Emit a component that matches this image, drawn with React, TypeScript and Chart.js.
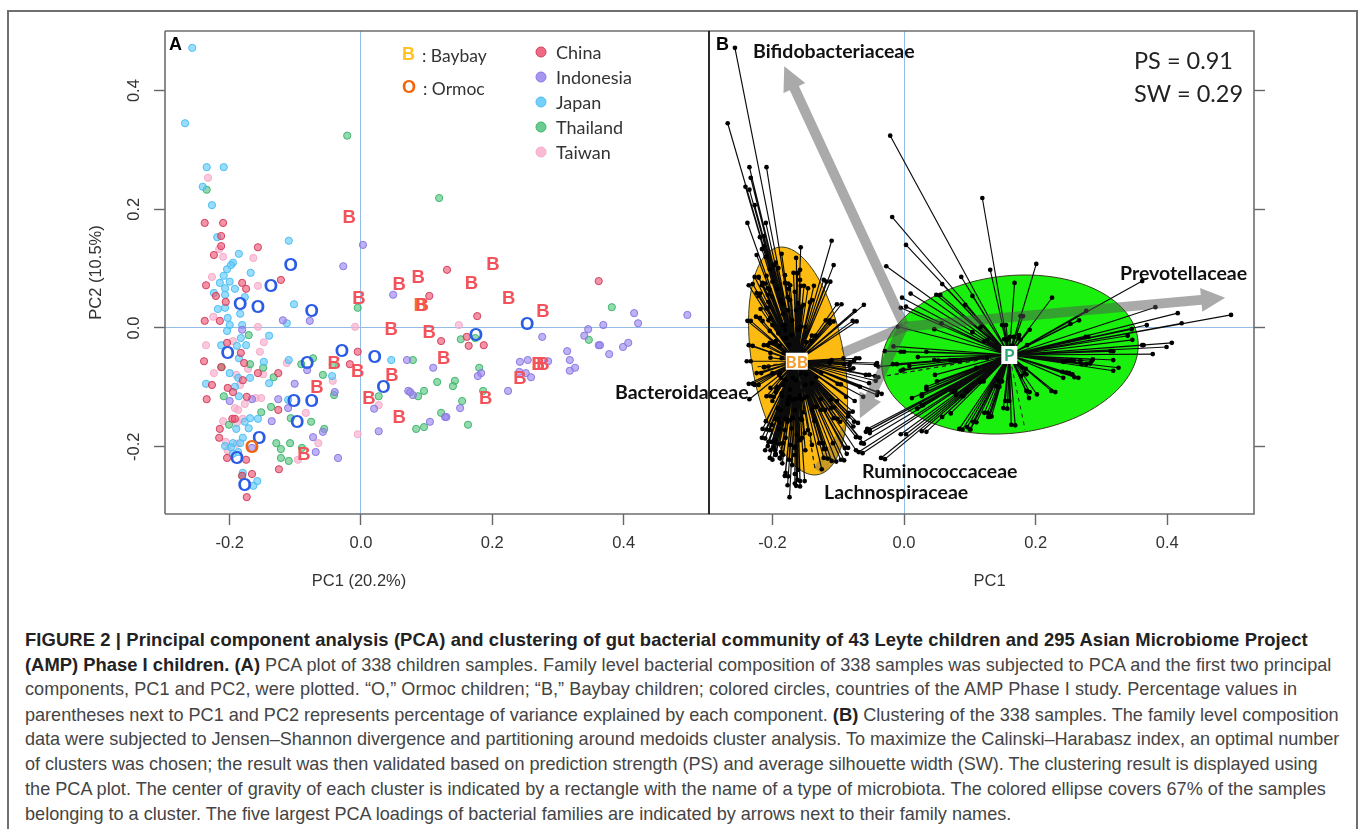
import React, { useEffect, useRef } from "react";
import { Chart, registerables } from "chart.js";

Chart.register(...registerables);

type Pt = [number, number];

const chinaPoints: Pt[] = [[-0.238,0.177],[-0.21,0.177],[-0.213,0.155],[-0.213,0.138],[-0.157,0.136],[-0.224,0.123],[-0.122,0.081],[-0.236,0.072],[-0.221,0.054],[-0.181,0.076],[-0.175,0.066],[-0.206,0.044],[-0.238,0.012],[-0.215,0.012],[-0.204,-0.025],[-0.183,-0.042],[-0.239,-0.056],[-0.178,-0.059],[-0.213,-0.066],[-0.18,-0.088],[-0.157,-0.076],[-0.126,-0.076],[-0.227,-0.096],[-0.203,-0.101],[-0.195,-0.108],[-0.174,-0.116],[-0.235,-0.12],[-0.126,-0.138],[-0.196,-0.153],[-0.192,-0.153],[-0.215,-0.17],[-0.216,-0.185],[-0.204,-0.219],[-0.175,-0.222],[-0.166,-0.246],[-0.181,-0.249],[-0.174,-0.285],[-0.125,-0.238],[-0.005,-0.04],[-0.017,-0.061],[0.131,0.098],[0.362,0.079],[0.104,0.054],[0.177,0.02],[0.122,-0.022],[0.161,-0.015],[0.164,-0.03],[0.187,-0.029]];
const indonesiaPoints: Pt[] = [[0.003,0.14],[-0.027,0.104],[0.049,0.056],[-0.119,0.013],[-0.078,0.012],[-0.181,-0.003],[-0.082,-0.071],[-0.101,-0.094],[-0.04,-0.108],[-0.166,-0.12],[-0.2,-0.123],[-0.126,-0.12],[-0.111,-0.135],[-0.136,-0.157],[-0.073,-0.184],[-0.058,-0.175],[-0.069,-0.209],[-0.035,-0.219],[0.02,-0.136],[0.027,-0.174],[0.07,-0.054],[0.072,-0.106],[0.079,-0.113],[-0.166,-0.202],[0.497,0.022],[0.416,0.025],[0.422,0.008],[0.369,0.005],[0.346,-0.002],[0.276,-0.015],[0.34,-0.013],[0.407,-0.025],[0.399,-0.032],[0.362,-0.029],[0.364,-0.029],[0.378,-0.044],[0.314,-0.039],[0.318,-0.054],[0.285,-0.056],[0.254,-0.054],[0.242,-0.057],[0.326,-0.067],[0.318,-0.072],[0.241,-0.074],[0.251,-0.076],[0.259,-0.083],[0.11,-0.067],[0.183,-0.076],[0.178,-0.081],[0.224,-0.106],[0.151,-0.135],[0.128,-0.15],[0.13,-0.15],[0.105,-0.158],[0.075,-0.108]];
const japanPoints: Pt[] = [[-0.257,0.472],[-0.268,0.345],[-0.235,0.271],[-0.209,0.271],[-0.241,0.238],[-0.227,0.207],[-0.219,0.153],[-0.11,0.147],[-0.186,0.125],[-0.195,0.11],[-0.198,0.106],[-0.204,0.099],[-0.168,0.093],[-0.209,0.088],[-0.2,0.078],[-0.215,0.076],[-0.224,0.059],[-0.207,0.067],[-0.207,0.056],[-0.192,0.066],[-0.177,0.052],[-0.218,0.032],[-0.207,0.034],[-0.184,0.024],[-0.203,0.017],[-0.2,0.005],[-0.181,0.005],[-0.204,-0.005],[-0.113,0.008],[-0.102,0.04],[-0.14,-0.013],[-0.183,-0.017],[-0.213,-0.029],[-0.189,-0.03],[-0.175,-0.029],[-0.186,-0.051],[-0.148,-0.057],[-0.11,-0.054],[-0.2,-0.076],[-0.169,-0.084],[-0.14,-0.093],[-0.187,-0.084],[-0.236,-0.094],[-0.192,-0.099],[-0.186,-0.115],[-0.111,-0.121],[-0.169,-0.152],[-0.157,-0.153],[-0.177,-0.158],[-0.171,-0.169],[-0.19,-0.17],[-0.18,-0.185],[-0.195,-0.194],[-0.184,-0.194],[-0.18,-0.244],[-0.158,-0.258],[-0.164,-0.266],[-0.044,-0.081],[0.046,-0.054],[-0.195,-0.212],[-0.187,-0.209],[-0.198,-0.201],[-0.207,-0.199]];
const thailandPoints: Pt[] = [[-0.021,0.324],[-0.235,0.233],[0.119,0.219],[-0.005,0.034],[-0.171,-0.012],[-0.169,-0.061],[-0.149,-0.067],[-0.133,-0.083],[-0.212,-0.066],[-0.073,-0.051],[-0.091,-0.061],[-0.058,-0.079],[-0.043,-0.062],[-0.041,-0.113],[-0.209,-0.115],[-0.137,-0.133],[-0.152,-0.142],[-0.107,-0.152],[-0.076,-0.158],[-0.201,-0.163],[-0.056,-0.17],[-0.129,-0.194],[-0.122,-0.204],[-0.108,-0.194],[-0.09,-0.202],[-0.122,-0.219],[-0.11,-0.224],[0.027,-0.115],[0.079,-0.054],[0.084,-0.17],[0.087,-0.115],[-0.181,-0.249],[0.382,0.035],[0.152,-0.019],[0.174,-0.017],[0.347,-0.02],[0.18,-0.067],[0.116,-0.091],[0.143,-0.089],[0.14,-0.098],[0.096,-0.106],[0.186,-0.106],[0.154,-0.123],[0.122,-0.143],[0.163,-0.163],[0.096,-0.167]];
const taiwanPoints: Pt[] = [[-0.233,0.253],[-0.21,0.12],[-0.164,0.118],[-0.227,0.086],[-0.216,0.133],[-0.157,0.071],[-0.225,0.019],[-0.157,0.002],[-0.236,-0.029],[-0.195,-0.022],[-0.148,-0.024],[-0.154,-0.04],[-0.113,-0.059],[-0.172,-0.069],[-0.149,-0.078],[-0.224,-0.076],[-0.19,-0.079],[-0.043,-0.089],[-0.184,-0.096],[-0.177,-0.128],[-0.16,-0.118],[-0.152,-0.118],[-0.192,-0.135],[-0.187,-0.138],[-0.21,-0.157],[-0.189,-0.16],[-0.18,-0.153],[-0.084,-0.143],[-0.206,-0.192],[-0.203,-0.206],[-0.189,-0.195],[-0.065,-0.194],[-0.096,-0.222],[-0.005,-0.179],[0.027,-0.13],[-0.009,0.002],[0.149,0.005]];
const baybayPoints: Pt[] = [[-0.018,0.187],[-0.003,0.051],[0.058,0.074],[0.087,0.086],[0.168,0.076],[0.201,0.108],[0.225,0.051],[0.277,0.029],[0.093,0.039],[0.104,-0.007],[0.046,-0.002],[0.126,-0.051],[-0.041,-0.059],[-0.005,-0.072],[0.047,-0.079],[-0.067,-0.099],[0.012,-0.118],[0.058,-0.15],[-0.087,-0.212],[0.242,-0.084],[0.19,-0.118],[0.27,-0.061],[0.277,-0.061]];
const ormocPoints: Pt[] = [[-0.107,0.106],[-0.137,0.071],[-0.184,0.04],[-0.157,0.035],[-0.075,0.029],[-0.029,-0.039],[0.021,-0.049],[-0.203,-0.042],[-0.082,-0.059],[0.034,-0.099],[-0.102,-0.123],[-0.075,-0.123],[-0.097,-0.158],[-0.155,-0.185],[-0.189,-0.219],[-0.177,-0.265],[0.253,0.007],[0.175,-0.012]];
const baybayCenters: Pt[] = [[0.09,0.039],[0.27,-0.061]];
const ormocCenters: Pt[] = [[-0.166,-0.2]];

// Points, where panel A's marks hide one another.
const panelBExtraBB: Pt[] = [[-0.221,0.086],[-0.23,0.074],[-0.216,0.072],[-0.211,0.075],[-0.219,0.058],[-0.201,0.053],[-0.176,0.075],[-0.152,0.071],[-0.143,0.043],[-0.162,0.093],[-0.209,0.033],[-0.219,0.017],[-0.206,0.013],[-0.233,0.012],[-0.191,-0.009],[-0.199,-0.026],[-0.207,-0.029],[-0.23,-0.03],[-0.203,-0.05],[-0.233,-0.056],[-0.206,-0.065],[-0.217,-0.076],[-0.23,-0.094],[-0.221,-0.096],[-0.188,-0.076],[-0.194,-0.102],[-0.198,-0.116],[-0.203,-0.115],[-0.186,-0.11],[-0.156,0.036],[-0.161,0.042],[-0.113,0.013],[-0.107,0.011],[-0.141,-0.022],[-0.134,-0.013],[-0.15,0.002],[-0.209,-0.171],[-0.211,-0.186],[-0.201,-0.192],[-0.196,-0.206],[-0.2,-0.222],[-0.188,-0.22],[-0.185,-0.228],[-0.176,-0.25],[-0.166,-0.262],[-0.162,-0.256],[-0.151,-0.258],[-0.158,-0.267],[-0.103,-0.225],[-0.091,-0.223],[-0.116,-0.22],[-0.123,-0.194],[-0.119,-0.204],[-0.085,-0.202],[-0.073,-0.206],[-0.101,-0.153],[-0.106,-0.134],[-0.12,-0.138],[-0.133,-0.133],[-0.143,-0.179],[-0.151,-0.177],[-0.156,-0.117],[-0.148,-0.116],[-0.096,-0.095],[-0.088,-0.116],[-0.062,-0.116],[-0.07,-0.16],[-0.085,-0.149],[-0.078,-0.141],[-0.061,-0.195],[-0.067,-0.185],[-0.077,-0.166],[-0.092,-0.051],[-0.076,-0.055],[-0.068,-0.051],[-0.083,-0.063],[-0.077,-0.068],[-0.053,-0.079],[-0.039,-0.083],[-0.053,-0.093],[-0.034,-0.111],[-0.061,0.039],[-0.072,0.011],[-0.095,0.04],[-0.118,0.078],[-0.112,0.078],[-0.162,0.092],[-0.221,0.085],[-0.181,0.089],[-0.173,0.072],[-0.166,0.061],[-0.158,0.081],[-0.146,0.067],[-0.188,0.047],[-0.176,0.03],[-0.153,0.039],[-0.14,0.047],[-0.17,0.013],[-0.161,-0.003],[-0.184,0.005],[-0.179,-0.017],[-0.173,0.047],[-0.164,0.03],[-0.158,0.098],[-0.191,0.101],[-0.204,0.064],[-0.191,-0.155],[-0.181,-0.172],[-0.173,-0.197],[-0.166,-0.214],[-0.158,-0.189],[-0.15,-0.206],[-0.184,-0.214],[-0.17,-0.231],[-0.14,-0.197],[-0.196,-0.189],[-0.176,-0.121],[-0.166,-0.138],[-0.155,-0.155],[-0.188,-0.138],[-0.146,-0.172],[-0.161,-0.239],[-0.173,-0.104],[-0.158,-0.113],[-0.164,-0.088],[-0.173,-0.155],[-0.181,-0.088],[-0.15,-0.096],[-0.14,-0.138],[-0.204,-0.172],[-0.211,-0.206],[-0.195,-0.214],[-0.163,-0.18],[-0.169,-0.121],[-0.155,-0.121]];
const panelBExtraP: Pt[] = [[0.266,0.013],[0.318,-0.039],[0.287,-0.053],[0.268,-0.055],[0.258,-0.054],[0.248,-0.055],[0.283,-0.06],[0.265,-0.084],[0.256,-0.078],[0.247,-0.075],[0.23,-0.108],[0.202,-0.112],[0.191,-0.108],[0.186,-0.078],[0.185,-0.069],[0.169,-0.164],[0.16,-0.123],[0.157,-0.136],[0.133,-0.149],[0.127,-0.143],[0.11,-0.159],[0.1,-0.171],[0.145,-0.099],[0.149,-0.09],[0.121,-0.09],[0.181,0.02],[0.191,-0.003],[0.177,-0.02],[0.167,-0.015],[0.155,0.005],[0.157,-0.02],[0.127,-0.02],[0.28,-0.015],[0.116,0.001],[0.01,0.058],[0.003,0.036],[0.057,0.008],[0.055,0.056],[0.034,-0.04],[0,-0.04],[0.052,-0.055],[-0.011,-0.061],[-0.039,-0.065],[0.008,-0.064],[-0.001,-0.07],[-0.016,-0.031],[0.027,-0.112],[0.034,-0.103],[0.05,-0.09],[0.078,-0.106],[0.09,-0.115],[0.071,-0.144],[0.029,-0.13],[0.003,-0.179],[0.034,-0.175],[-0.029,-0.221],[-0.063,-0.211],[-0.052,-0.172],[-0.052,-0.177],[0.089,-0.171],[0.101,-0.171],[0.075,-0.054],[0.085,-0.057]];

const xTicksValues = [-0.2, 0, 0.2, 0.4];
const yTicksValues = [-0.2, 0, 0.2, 0.4];

const legendCountries = ["China", "Indonesia", "Japan", "Thailand", "Taiwan"];
const countryFill = ["rgba(238,80,110,0.62)", "rgba(150,130,238,0.62)", "rgba(90,200,250,0.62)", "rgba(80,195,125,0.62)", "rgba(248,175,205,0.68)"];
const countryStroke = ["#D0405F", "#8C78E0", "#4DBDF2", "#3FB56C", "#F5ABC9"];

const clusterSplitX = -0.03;
const bbCenter: Pt = [-0.163, -0.056];
const pCenter: Pt = [0.16, -0.0455];
const bbDashEnds: Pt[] = [[-0.135, -0.239], [-0.226, -0.066]];
const pDashEnds: Pt[] = [[-0.029, -0.081], [0.184, -0.171]];
// centre x/y, half-width along x, half-height along y, x shift at the top
const bbEllipse = { cx: -0.161, cy: -0.0556, rx: 0.071, ry: 0.192, skew: -0.0251, color: "#FDBB12" };
const pEllipse = { cx: 0.161, cy: -0.0447, rx: 0.1936, ry: 0.134, skew: 0.023, color: "#19F00E" };
const arrows = [
  { name: "Bifidobacteriaceae", tail: [0, 0.005], tip: [-0.182, 0.441], head: true },
  { name: "Prevotellaceae", tail: [0, 0.002], tip: [0.488, 0.051], head: true },
  { name: "Ruminococcaceae", tail: [0, 0.005], tip: [-0.067, -0.152], head: true },
  { name: "Bacteroidaceae", tail: [0, 0.002], tip: [-0.093, -0.042], head: false },
];
// Only the stretch of this arrow that darkens the orange ellipse is visible.
const lachnoShade = { tail: [-0.067, -0.152], tip: [-0.125, -0.245] };

const captionLines: [string, string, string][] = [
  ["FIGURE 2 | Principal component analysis (PCA) and clustering of gut bacterial community of 43 Leyte children and 295 Asian Microbiome Project", "", ""],
  ["(AMP) Phase I children. (A)", " PCA plot of 338 children samples. Family level bacterial composition of 338 samples was subjected to PCA and the first two principal", ""],
  ["", "components, PC1 and PC2, were plotted. “O,” Ormoc children; “B,” Baybay children; colored circles, countries of the AMP Phase I study. Percentage values in", ""],
  ["", "parentheses next to PC1 and PC2 represents percentage of variance explained by each component. ", "(B)|Clustering of the 338 samples. The family level composition"],
  ["", "data were subjected to Jensen–Shannon divergence and partitioning around medoids cluster analysis. To maximize the Calinski–Harabasz index, an optimal number", ""],
  ["", "of clusters was chosen; the result was then validated based on prediction strength (PS) and average silhouette width (SW). The clustering result is displayed using", ""],
  ["", "the PCA plot. The center of gravity of each cluster is indicated by a rectangle with the name of a type of microbiota. The colored ellipse covers 67% of the samples", ""],
  ["", "belonging to a cluster. The five largest PCA loadings of bacterial families are indicated by arrows next to their family names.", ""],
];
const captionSpacing = [0, 0.04, 0.05, -0.02, -0.025, -0.04, 0.025, 0];

const SANS = '"Liberation Sans", Arial, sans-serif';
const LATO = 'Lato, "Open Sans", sans-serif';
const TICK_COLOR = "#666";
const TEXT_COLOR = "#333";
const A_BOX = { left: 80, top: 21, width: 632, height: 585 };
const B_BOX = { left: 600, top: 21, width: 700, height: 585 };

const toXY = (pts: Pt[]) => pts.map(([x, y]) => ({ x, y }));

const allSamples: Pt[] = [...chinaPoints, ...indonesiaPoints, ...japanPoints, ...thailandPoints, ...taiwanPoints, ...baybayPoints, ...ormocPoints, ...ormocCenters];
const inP = ([x, y]: Pt) => x >= clusterSplitX || (x > -0.07 && y < -0.16);
const spider = (center: Pt, pts: Pt[]) => {
  const out: { x: number; y: number }[] = [];
  pts.forEach((p) => {
    out.push({ x: center[0], y: center[1] });
    out.push({ x: p[0], y: p[1] });
  });
  return out;
};

const texts = (ctx: any, box: any, items: any[]) => {
  ctx.save();
  items.forEach((t) => {
    ctx.font = t.font;
    ctx.fillStyle = t.color;
    ctx.textAlign = t.align || "left";
    ctx.textBaseline = "middle";
    ctx.fillText(t.text, t.x - box.left, t.y - box.top);
  });
  ctx.restore();
};

const boxPlugin = (color: string, leftColor: string) => ({
  id: "box",
  afterDraw(chart: any) {
    const { ctx, chartArea: a } = chart;
    ctx.save();
    ctx.lineWidth = 1.6;
    ctx.strokeStyle = color;
    ctx.beginPath();
    ctx.moveTo(a.left, a.top);
    ctx.lineTo(a.right, a.top);
    ctx.lineTo(a.right, a.bottom);
    ctx.lineTo(a.left, a.bottom);
    ctx.stroke();
    ctx.strokeStyle = leftColor;
    ctx.beginPath();
    ctx.moveTo(a.left, a.top);
    ctx.lineTo(a.left, a.bottom);
    ctx.stroke();
    ctx.restore();
  },
});

const lettersPlugin = {
  id: "letters",
  afterDatasetsDraw(chart: any) {
    const { ctx } = chart;
    ctx.save();
    ctx.textAlign = "center";
    ctx.textBaseline = "middle";
    chart.data.datasets.forEach((ds: any, i: number) => {
      if (!ds.letter) return;
      ctx.font = `bold 18.5px ${SANS}`;
      ctx.fillStyle = ds.letterColor;
      chart.getDatasetMeta(i).data.forEach((el: any) => ctx.fillText(ds.letter, el.x, el.y + 1));
    });
    ctx.restore();
  },
};

const legendAndLabelsA = {
  id: "labelsA",
  afterDraw(chart: any) {
    const { ctx } = chart;
    texts(ctx, A_BOX, [
      { text: "A", x: 169, y: 45, font: `bold 18px ${SANS}`, color: "#000" },
      { text: "B", x: 402, y: 55, font: `bold 18px ${SANS}`, color: "#FFC21F" },
      { text: "O", x: 402, y: 88, font: `bold 18px ${SANS}`, color: "#F2650A" },
      { text: ": Baybay", x: 422, y: 56, font: `17.5px ${LATO}`, color: "#333" },
      { text: ": Ormoc", x: 423, y: 89, font: `17.5px ${LATO}`, color: "#333" },
      { text: "PC1 (20.2%)", x: chart.scales.x.getPixelForValue(0) + A_BOX.left - 2, y: 581, font: `16.5px ${SANS}`, color: TEXT_COLOR, align: "center" },
    ]);
    legendCountries.forEach((name, i) => {
      const y = 52 + i * 25;
      ctx.save();
      ctx.beginPath();
      ctx.arc(541 - A_BOX.left, y - A_BOX.top, 5, 0, Math.PI * 2);
      ctx.fillStyle = countryFill[i].replace(/0\.6\d\)/, "0.85)");
      ctx.strokeStyle = countryStroke[i];
      ctx.lineWidth = 1;
      ctx.fill();
      ctx.stroke();
      ctx.restore();
      texts(ctx, A_BOX, [{ text: name, x: 556, y: y + 1, font: `18px ${LATO}`, color: "#333" }]);
    });
  },
};

const ellipsesPlugin = {
  id: "ellipses",
  beforeDatasetsDraw(chart: any) {
    const { ctx, scales } = chart;
    [bbEllipse, pEllipse].forEach((e) => {
      ctx.save();
      ctx.beginPath();
      for (let deg = 0; deg <= 360; deg += 3) {
        const t = (deg * Math.PI) / 180;
        const px = scales.x.getPixelForValue(e.cx + e.rx * Math.cos(t) + e.skew * Math.sin(t));
        const py = scales.y.getPixelForValue(e.cy + e.ry * Math.sin(t));
        if (deg === 0) ctx.moveTo(px, py);
        else ctx.lineTo(px, py);
      }
      ctx.closePath();
      ctx.fillStyle = e.color;
      ctx.fill();
      ctx.strokeStyle = "#3a3a20";
      ctx.lineWidth = 1;
      ctx.stroke();
      if (e === bbEllipse) {
        ctx.clip();
        ctx.strokeStyle = "rgba(82,82,82,0.3)";
        ctx.lineWidth = 20;
        ctx.beginPath();
        ctx.moveTo(scales.x.getPixelForValue(lachnoShade.tail[0]), scales.y.getPixelForValue(lachnoShade.tail[1]));
        ctx.lineTo(scales.x.getPixelForValue(lachnoShade.tip[0]), scales.y.getPixelForValue(lachnoShade.tip[1]));
        ctx.stroke();
      }
      ctx.restore();
    });
  },
};

const arrowsAndBoxes = {
  id: "arrowsBoxes",
  afterDatasetsDraw(chart: any) {
    const { ctx, scales } = chart;
    ctx.save();
    ctx.fillStyle = "rgba(82,82,82,0.49)";
    arrows.forEach((a) => {
      const x0 = scales.x.getPixelForValue(a.tail[0]);
      const y0 = scales.y.getPixelForValue(a.tail[1]);
      const x1 = scales.x.getPixelForValue(a.tip[0]);
      const y1 = scales.y.getPixelForValue(a.tip[1]);
      const len = Math.hypot(x1 - x0, y1 - y0);
      const ux = (x1 - x0) / len;
      const uy = (y1 - y0) / len;
      const nx = -uy;
      const ny = ux;
      const w = 5;
      const headL = 24;
      const headW = 12;
      const bx = a.head ? x1 - ux * headL : x1;
      const by = a.head ? y1 - uy * headL : y1;
      ctx.beginPath();
      ctx.moveTo(x0 + nx * w, y0 + ny * w);
      ctx.lineTo(bx + nx * w, by + ny * w);
      if (a.head) {
        ctx.lineTo(bx + nx * headW, by + ny * headW);
        ctx.lineTo(x1, y1);
        ctx.lineTo(bx - nx * headW, by - ny * headW);
      }
      ctx.lineTo(bx - nx * w, by - ny * w);
      ctx.lineTo(x0 - nx * w, y0 - ny * w);
      ctx.closePath();
      ctx.fill();
    });
    const cBB = [scales.x.getPixelForValue(bbCenter[0]), scales.y.getPixelForValue(bbCenter[1])];
    const cP = [scales.x.getPixelForValue(pCenter[0]), scales.y.getPixelForValue(pCenter[1])];
    ctx.fillStyle = "#fff";
    ctx.fillRect(cBB[0] - 11, cBB[1] - 8.5, 22, 17);
    ctx.fillRect(cP[0] - 8, cP[1] - 9, 16, 18);
    ctx.textAlign = "center";
    ctx.textBaseline = "middle";
    ctx.font = `bold 17px ${LATO}`;
    ctx.fillStyle = "#F39A2B";
    ctx.fillText("BB", cBB[0], cBB[1] + 1);
    ctx.fillStyle = "#2AA876";
    ctx.fillText("P", cP[0], cP[1] + 1);
    ctx.restore();
  },
  afterDraw(chart: any) {
    const { ctx } = chart;
    texts(ctx, B_BOX, [
      { text: "B", x: 716, y: 45, font: `bold 18px ${SANS}`, color: "#000" },
      { text: "Bifidobacteriaceae", x: 753, y: 52, font: `bold 19.5px ${LATO}`, color: "#111" },
      { text: "Prevotellaceae", x: 1120, y: 274, font: `bold 19.5px ${LATO}`, color: "#111" },
      { text: "Bacteroidaceae", x: 615, y: 393, font: `bold 19.5px ${LATO}`, color: "#111" },
      { text: "Ruminococcaceae", x: 862, y: 472, font: `bold 19.5px ${LATO}`, color: "#111" },
      { text: "Lachnospiraceae", x: 824, y: 493, font: `bold 19.5px ${LATO}`, color: "#111" },
      { text: "PS = 0.91", x: 1134, y: 61, font: `23.5px ${LATO}`, color: "#222" },
      { text: "SW = 0.29", x: 1134, y: 94, font: `23.5px ${LATO}`, color: "#222" },
      { text: "PC1", x: chart.scales.x.getPixelForValue(0.13) + B_BOX.left, y: 581, font: `16.5px ${SANS}`, color: TEXT_COLOR, align: "center" },
    ]);
  },
};

const zeroLine = (c: any) => (Math.abs(c.tick?.value ?? 1) < 1e-9 ? "#93BDE6" : "rgba(0,0,0,0)");

const baseX = (min: number, max: number, height: number) => ({
  type: "linear",
  min,
  max,
  position: "bottom",
  afterBuildTicks: (s: any) => { s.ticks = xTicksValues.map((value) => ({ value })); },
  afterFit: (s: any) => { s.height = height; },
  border: { display: false },
  grid: { color: zeroLine, lineWidth: 1, tickColor: TICK_COLOR, tickLength: 11, tickWidth: 1.4 },
  ticks: { color: TEXT_COLOR, padding: 9, maxRotation: 0, minRotation: 0, font: { family: SANS, size: 16.5 }, callback: (v: number) => v.toFixed(1) },
});

function useChart(ref: any, make: () => any) {
  useEffect(() => {
    const chart = new Chart(ref.current, make());
    return () => chart.destroy();
  }, []);
}

const countryDataset = (name: string, pts: Pt[], i: number) => ({
  label: name,
  data: toXY(pts),
  pointRadius: 3.6,
  pointBorderWidth: 1,
  pointBackgroundColor: countryFill[i],
  pointBorderColor: countryStroke[i],
  showLine: false,
});
const letterDataset = (label: string, pts: Pt[], letter: string, letterColor: string) => ({
  label,
  data: toXY(pts),
  pointRadius: 0,
  showLine: false,
  letter,
  letterColor,
});

export default function App() {
  const aRef = useRef<HTMLCanvasElement>(null);
  const bRef = useRef<HTMLCanvasElement>(null);

  useChart(aRef, () => ({
    type: "scatter",
    data: {
      datasets: [
        countryDataset("China", chinaPoints, 0),
        countryDataset("Indonesia", indonesiaPoints, 1),
        countryDataset("Japan", japanPoints, 2),
        countryDataset("Thailand", thailandPoints, 3),
        countryDataset("Taiwan", taiwanPoints, 4),
        letterDataset("Baybay centres", baybayCenters, "B", "#F97316"),
        letterDataset("Baybay", baybayPoints, "B", "#F4525A"),
        letterDataset("Ormoc", ormocPoints, "O", "#2B5CE6"),
        letterDataset("Ormoc centre", ormocCenters, "O", "#F0650E"),
      ],
    },
    options: {
      animation: false,
      responsive: false,
      layout: { autoPadding: false, padding: { left: 0, right: 3, top: 10, bottom: 0 } },
      plugins: { legend: { display: false }, tooltip: { enabled: false } },
      scales: {
        x: baseX(-0.2985, 0.5300, A_BOX.height - 10 - 483),
        y: {
          type: "linear",
          min: -0.3134,
          max: 0.5004,
          position: "left",
          afterBuildTicks: (s: any) => { s.ticks = yTicksValues.map((value) => ({ value })); },
          afterFit: (s: any) => {
            s.width = 85;
            s.paddingTop = 0;
            s.paddingBottom = 0;
            if (s._margins) { s._margins.top = 0; s._margins.bottom = 0; }
          },
          border: { display: false },
          grid: { color: zeroLine, lineWidth: 1, tickColor: TICK_COLOR, tickLength: 11, tickWidth: 1.4 },
          ticks: { color: TEXT_COLOR, padding: 5, minRotation: 90, maxRotation: 90, crossAlign: "center", font: { family: SANS, size: 16.5 }, callback: (v: number) => v.toFixed(1) },
          title: { display: true, text: "PC2 (10.5%)", color: TEXT_COLOR, font: { family: SANS, size: 16.5 }, padding: { top: 7, bottom: 0 } },
        },
      },
    },
    plugins: [lettersPlugin, legendAndLabelsA, boxPlugin("#6e6e6e", "#6e6e6e")],
  }));

  useChart(bRef, () => {
    const bb = [...allSamples.filter((p) => !inP(p)), ...panelBExtraBB];
    const pp = [...allSamples.filter(inP), ...panelBExtraP];
    const odd = (c: any) => (c.dataIndex % 2 === 1 ? 2.35 : 0);
    const spiderDs = (label: string, center: Pt, pts: Pt[]) => ({
      label,
      data: spider(center, pts),
      showLine: true,
      borderColor: "#0b0b0b",
      borderWidth: 1.15,
      borderJoinStyle: "round",
      tension: 0,
      pointRadius: odd,
      pointBorderWidth: 0,
      pointBackgroundColor: "#000",
    });
    const dash = (label: string, center: Pt, ends: Pt[]) => ({
      label,
      data: spider(center, ends),
      showLine: true,
      borderColor: "#222",
      borderWidth: 1,
      borderDash: [4, 4],
      pointRadius: 0,
    });
    return {
      type: "scatter",
      data: {
        datasets: [
          dash("BB axes", bbCenter, bbDashEnds),
          dash("P axes", pCenter, pDashEnds),
          spiderDs("BB cluster", bbCenter, bb),
          spiderDs("P cluster", pCenter, pp),
        ],
      },
      options: {
        animation: false,
        responsive: false,
        layout: { autoPadding: false, padding: { left: 109, right: 0, top: 10, bottom: 0 } },
        plugins: { legend: { display: false }, tooltip: { enabled: false } },
        scales: {
          x: baseX(-0.2964, 0.5319, B_BOX.height - 10 - 483),
          y: {
            type: "linear",
            min: -0.3134,
            max: 0.5004,
            position: "right",
            afterBuildTicks: (s: any) => { s.ticks = yTicksValues.map((value) => ({ value })); },
            afterFit: (s: any) => { s.width = 46; },
            border: { display: false },
            grid: { color: zeroLine, lineWidth: 1, tickColor: TICK_COLOR, tickLength: 11, tickWidth: 1.4 },
            ticks: { display: false },
          },
        },
      },
      plugins: [ellipsesPlugin, arrowsAndBoxes, boxPlugin("#6e6e6e", "#111")],
    };
  });

  return (
    <div style={{ position: "absolute", left: 0, top: 0, width: 1358, height: 829, overflow: "hidden", background: "#fff" }}>
      <div style={{ position: "absolute", left: 7, top: 10, width: 1347, height: 900, borderTop: "2px solid #6f6f6f", borderLeft: "2px solid #6f6f6f", borderRight: "2px solid #6f6f6f" }} />
      <canvas ref={aRef} width={A_BOX.width} height={A_BOX.height} style={{ position: "absolute", left: A_BOX.left, top: A_BOX.top, display: "block" }} />
      <canvas ref={bRef} width={B_BOX.width} height={B_BOX.height} style={{ position: "absolute", left: B_BOX.left, top: B_BOX.top, display: "block" }} />
      {captionLines.map(([bold, normal, tail], i) => {
        const [tailBold, tailNormal] = tail ? tail.split("|") : ["", ""];
        return (
          <div key={i} style={{ position: "absolute", left: 25, top: 627 + i * 25, lineHeight: "25px", whiteSpace: "nowrap", fontFamily: SANS, fontSize: 18.1, color: "#444", letterSpacing: captionSpacing[i] }}>
            {bold ? <b style={{ color: "#222", fontSize: 18.4, letterSpacing: i === 0 ? 0.1 : 0 }}>{bold}</b> : null}
            {normal}
            {tailBold ? <b style={{ color: "#222", fontSize: 18.4 }}>{tailBold}</b> : null}
            {tailNormal ? " " + tailNormal : null}
          </div>
        );
      })}
    </div>
  );
}
